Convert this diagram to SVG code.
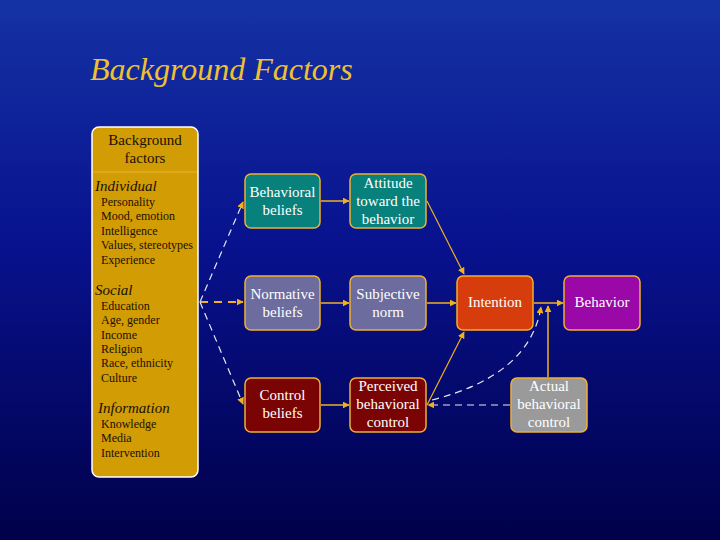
<svg xmlns="http://www.w3.org/2000/svg" width="720" height="540" viewBox="0 0 720 540">
<defs>
<linearGradient id="bg" x1="0" y1="0" x2="0" y2="1">
<stop offset="0" stop-color="#1532a4"/>
<stop offset="0.45" stop-color="#08128e"/>
<stop offset="1" stop-color="#00004a"/>
</linearGradient>
<marker id="ah" viewBox="0 0 10 10" refX="9" refY="5" markerWidth="7" markerHeight="7" markerUnits="userSpaceOnUse" orient="auto">
<path d="M0,0 L10,5 L0,10 z" fill="#f0b020"/>
</marker>
<style>
.node rect{stroke:#f0b030;stroke-width:1.5}
.nt{font-family:"Liberation Serif",serif;font-size:15px;fill:#ffffff;text-anchor:middle}
.lt{font-family:"Liberation Serif",serif;font-size:12px;fill:#1a1000}
.hd{font-family:"Liberation Serif",serif;font-size:15px;font-style:italic;fill:#1a1000}
.solid{stroke:#f0b020;stroke-width:1.5;fill:none;marker-end:url(#ah)}
.dash{stroke:#e8e8f0;stroke-width:1.2;stroke-dasharray:7,5;fill:none;marker-end:url(#ah)}
</style>
</defs>
<rect width="720" height="540" fill="url(#bg)"/>
<text x="90" y="80" font-family="Liberation Serif,serif" font-size="32" font-style="italic" fill="#f0c030">Background Factors</text>

<g id="background-factors">
<rect x="92" y="127" width="106" height="350" rx="7" fill="#d29c04" stroke="#ffffff" stroke-width="1.5"/>
<line x1="93" y1="172" x2="197" y2="172" stroke="#e8b430" stroke-width="1"/>
<text x="145" y="145" class="nt" style="fill:#1a1000">Background</text>
<text x="145" y="163" class="nt" style="fill:#1a1000">factors</text>
<text x="95" y="191" class="hd">Individual</text>
<text x="101" y="206" class="lt">Personality</text>
<text x="101" y="220" class="lt">Mood, emotion</text>
<text x="101" y="235" class="lt">Intelligence</text>
<text x="101" y="249" class="lt">Values, stereotypes</text>
<text x="101" y="264" class="lt">Experience</text>
<text x="95" y="295" class="hd">Social</text>
<text x="101" y="310" class="lt">Education</text>
<text x="101" y="324" class="lt">Age, gender</text>
<text x="101" y="339" class="lt">Income</text>
<text x="101" y="353" class="lt">Religion</text>
<text x="101" y="367" class="lt">Race, ethnicity</text>
<text x="101" y="382" class="lt">Culture</text>
<text x="98" y="413" class="hd">Information</text>
<text x="101" y="428" class="lt">Knowledge</text>
<text x="101" y="442" class="lt">Media</text>
<text x="101" y="457" class="lt">Intervention</text>
</g>

<g id="behavioral-beliefs" class="node">
<rect x="245" y="174" width="75" height="54" rx="6" fill="#08807c"/>
<text x="282.5" y="197" class="nt">Behavioral</text>
<text x="282.5" y="215" class="nt">beliefs</text>
</g>
<g id="attitude" class="node">
<rect x="350" y="174" width="76" height="54" rx="6" fill="#08807c"/>
<text x="388" y="188" class="nt">Attitude</text>
<text x="388" y="206" class="nt">toward the</text>
<text x="388" y="224" class="nt">behavior</text>
</g>
<g id="normative-beliefs" class="node">
<rect x="245" y="276" width="75" height="54" rx="6" fill="#6c6c9e"/>
<text x="282.5" y="299" class="nt">Normative</text>
<text x="282.5" y="317" class="nt">beliefs</text>
</g>
<g id="subjective-norm" class="node">
<rect x="350" y="276" width="76" height="54" rx="6" fill="#6c6c9e"/>
<text x="388" y="299" class="nt">Subjective</text>
<text x="388" y="317" class="nt">norm</text>
</g>
<g id="control-beliefs" class="node">
<rect x="245" y="378" width="75" height="54" rx="6" fill="#7a0404"/>
<text x="282.5" y="400" class="nt">Control</text>
<text x="282.5" y="418" class="nt">beliefs</text>
</g>
<g id="perceived-control" class="node">
<rect x="350" y="378" width="76" height="54" rx="6" fill="#7a0404"/>
<text x="388" y="391" class="nt">Perceived</text>
<text x="388" y="409" class="nt">behavioral</text>
<text x="388" y="427" class="nt">control</text>
</g>
<g id="intention" class="node">
<rect x="457" y="276" width="76" height="54" rx="6" fill="#d63c0c"/>
<text x="495" y="307" class="nt">Intention</text>
</g>
<g id="behavior" class="node">
<rect x="564" y="276" width="76" height="54" rx="6" fill="#9a08a8"/>
<text x="602" y="307" class="nt">Behavior</text>
</g>
<g id="actual-control" class="node">
<rect x="511" y="378" width="76" height="54" rx="6" fill="#9a9a9a"/>
<text x="549" y="391" class="nt">Actual</text>
<text x="549" y="409" class="nt">behavioral</text>
<text x="549" y="427" class="nt">control</text>
</g>

<g id="connectors">
<path class="dash" d="M200,302 L243,202"/>
<path class="dash" d="M200,302 L243,302" style="stroke:#f0b020;stroke-width:2;stroke-dasharray:8,6"/>
<path class="dash" d="M200,302 L243,404"/>
<path class="solid" d="M321,201 L349,201"/>
<path class="solid" d="M321,303 L349,303"/>
<path class="solid" d="M321,405 L349,405"/>
<path class="solid" d="M427,201 L464,274" style="stroke-width:1.2"/>
<path class="solid" d="M427,303 L456,303"/>
<path class="solid" d="M427,405 L464,332" style="stroke-width:1.2"/>
<path class="solid" d="M534,303 L563,303"/>
<path class="solid" d="M548,377 L548,306"/>
<path class="dash" d="M510,405 L428,405"/>
<path class="dash" d="M432,400 Q530,375 541,307"/>
</g>
</svg>
